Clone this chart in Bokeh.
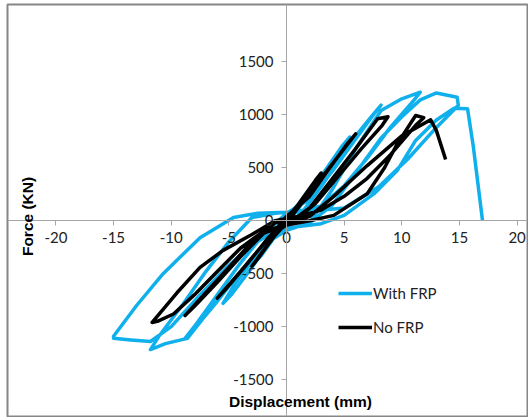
import math
from bokeh.plotting import figure
from bokeh.models import Range1d, FixedTicker, Label, Legend, LegendItem
from bokeh.embed import file_html
from bokeh.resources import INLINE

x_ticks = [-20, -15, -10, -5, 0, 5, 10, 15, 20]
y_ticks = [-1500, -1000, -500, 0, 500, 1000, 1500]

# With FRP (blue) hysteresis path
frp_x = [0, 1, 2, 3, 2.2, 1, 0, -1, -2, -3, -2.2, -1, 0,
         1, 2.5, 4, 5.5, 4.8, 3, 1.5, 0, -1.5, -3, -4.5, -5.5, -4.8, -3, -1.5, 0,
         1.5, 3, 4.5, 6, 7.2, 8.2, 7.6, 6, 4, 2, 0, -2, -4, -6, -8, -8.8, -8, -6, -4, -2, 0,
         2, 4, 6, 8.2, 10, 11.6, 11, 9, 7, 5, 3, 1, -1, -3, -5, -7, -9, -11, -11.8, -10.5, -8.6, -6.5, -4, -2, 0,
         2, 4, 6, 8.2, 10, 11.6, 13, 14.8, 14.9, 13, 10.5, 8, 5, 2, 0, -2.5, -4.6, -7.5, -10.7, -13, -15, -15, -13.5, -11.8, -10, -7.5, -5, -3, -1, 0,
         3, 5, 7.6, 9.6, 11.2, 13, 14.5, 15.7, 16.2, 17]
frp_y = [0, 130, 280, 430, 330, 150, 40, -110, -260, -420, -330, -150, -40,
         110, 330, 560, 790, 700, 420, 170, 40, -160, -380, -600, -780, -700, -440, -200, -60,
         100, 320, 560, 800, 960, 1090, 1010, 770, 470, 200, 70, -130, -400, -700, -1000, -1110, -1020, -760, -480, -230, -90,
         -20, 300, 680, 1040, 1150, 1212, 1130, 880, 590, 330, 140, 90, 70, 30, -200, -480, -790, -1080, -1216, -1160, -1110, -820, -480, -230, -90,
         -20, 150, 450, 780, 980, 1140, 1205, 1165, 1090, 880, 580, 320, 120, 90, 80, 70, 30, -160, -500, -800, -1090, -1110, -1125, -1140, -1000, -700, -420, -230, -100, -70,
         -28, 50, 255, 473, 757, 950, 1060, 1056, 700, 0]

# No FRP (black) hysteresis path
nofrp_x = [0, 1, 2, 3, 2.5, 1, 0, -1, -2, -3, -2.5, -1, 0,
           1, 3, 5, 6, 5.3, 3.5, 2, 0, -2, -4, -6, -5.3, -3.5, -1.5, 0,
           2, 4, 6, 7.9, 8.8, 8.3, 6.5, 4.5, 2.5, 1, -1, -3, -5, -7, -8.8, -8, -6, -4, -2, 0,
           2, 4.1, 7, 8.5, 9.6, 11.2, 11.9, 11.2, 9, 7, 5, 3, 1, -1, -3, -5.5, -7.5, -9.5, -11.65, -11.2, -9.8, -8, -6, -4, -2, 0,
           2, 4, 7, 10, 12.5, 13, 13.8]
nofrp_y = [0, 150, 300, 450, 380, 150, 20, -130, -280, -430, -360, -140, -20,
           120, 400, 680, 820, 730, 460, 230, 40, -220, -480, -730, -650, -420, -150, -40,
           120, 400, 680, 962, 980, 900, 680, 420, 160, 30, -20, -200, -440, -680, -895, -810, -580, -340, -120, -40,
           0, 50, 255, 500, 725, 992, 972, 900, 620, 400, 230, 100, 40, 0, -130, -280, -440, -680, -960, -950, -880, -700, -480, -260, -100, -40,
           40, 220, 520, 800, 952, 850, 577]

W, H = 528, 417
p = figure(width=W, height=H, x_range=Range1d(-24.198, 20.90), y_range=Range1d(-1847.2, 2039.6),
           output_backend="svg", toolbar_location=None, min_border=0)
p.min_border_left = 7
p.min_border_right = 1
p.min_border_top = 4
p.min_border_bottom = 1
p.xgrid.visible = False
p.ygrid.visible = False
p.outline_line_color = "#868686"
p.outline_line_width = 2
p.background_fill_color = "white"
p.border_fill_color = "white"

for ax, ticks in ((p.xaxis, x_ticks), (p.yaxis, y_ticks)):
    ax.fixed_location = 0
    ax.ticker = FixedTicker(ticks=ticks)
    ax.major_label_overrides = {t: str(t) for t in ticks}
    ax.axis_line_color = "#a6a6a6"
    ax.major_tick_line_color = "#a6a6a6"
    ax.major_tick_out = 5
    ax.major_tick_in = 0
    ax.minor_tick_line_color = None
    ax.major_label_text_font = "Lato"
    ax.major_label_text_font_size = "15px"
    ax.major_label_text_color = "#222222"
p.xaxis.major_label_standoff = 6
p.yaxis.major_label_standoff = 8

r1 = p.line(frp_x, frp_y, line_color="#0FB0EC", line_width=3.5, line_join="round")
r2 = p.line(nofrp_x, nofrp_y, line_color="black", line_width=3.5, line_join="round")

legend = Legend(items=[LegendItem(label="With FRP", renderers=[r1]),
                       LegendItem(label="No FRP", renderers=[r2])],
                location=(331, 79), orientation="vertical",
                border_line_color=None, background_fill_alpha=0,
                glyph_width=34, glyph_height=20, label_height=20, spacing=14,
                label_standoff=1, padding=0, margin=0,
                label_text_font="Lato", label_text_font_size="15px", label_text_color="#222222")
p.add_layout(legend)

p.add_layout(Label(x=1.21, y=-1706, text="Displacement (mm)",
                   text_align="center", text_baseline="middle", text_font="Liberation Sans",
                   text_font_style="bold", text_font_size="15.5px", text_color="black"))
p.add_layout(Label(x=-22.45, y=40, text="Force (KN)",
                   angle=math.pi / 2, text_align="center", text_baseline="middle",
                   text_font="Liberation Sans", text_font_style="bold", text_font_size="15.5px",
                   text_color="black"))

open("out.html", "w").write(file_html(p, INLINE))
